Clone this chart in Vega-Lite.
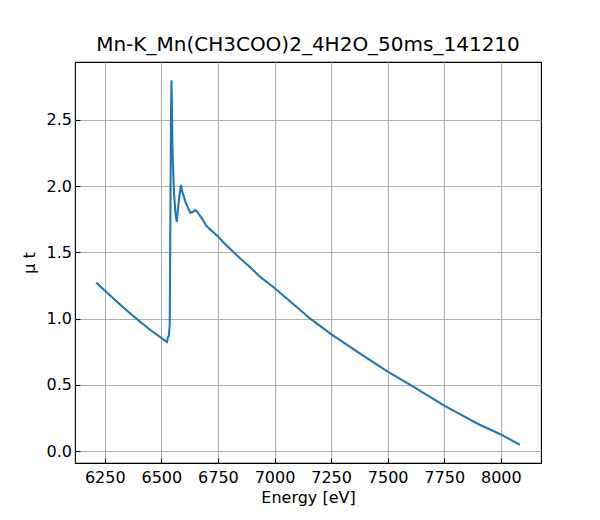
{
  "$schema": "https://vega.github.io/schema/vega-lite/v6.json",
  "autosize": {"type": "none"},
  "padding": {"left": 75, "top": 62, "right": 59, "bottom": 57},
  "width": 466,
  "height": 401,
  "title": {
    "text": "Mn-K_Mn(CH3COO)2_4H2O_50ms_141210",
    "font": "DejaVu Sans",
    "fontSize": 20,
    "fontWeight": "normal",
    "color": "black",
    "offset": 7
  },
  "config": {
    "view": {"stroke": "black", "strokeWidth": 1.1},
    "axis": {
      "labelFont": "DejaVu Sans",
      "labelFontSize": 16,
      "labelColor": "black",
      "titleFont": "DejaVu Sans",
      "titleFontSize": 16,
      "titleFontWeight": "normal",
      "titleColor": "black",
      "domain": false,
      "gridColor": "#b0b0b0",
      "gridWidth": 1.1,
      "tickColor": "black",
      "tickWidth": 1.1,
      "tickSize": -4.9
    }
  },
  "data": {
    "values": [
      {"energy": 6212, "mu": 1.272},
      {"energy": 6250, "mu": 1.212},
      {"energy": 6300, "mu": 1.134},
      {"energy": 6350, "mu": 1.058},
      {"energy": 6400, "mu": 0.985},
      {"energy": 6450, "mu": 0.916},
      {"energy": 6500, "mu": 0.855},
      {"energy": 6515, "mu": 0.835},
      {"energy": 6525, "mu": 0.825},
      {"energy": 6529, "mu": 0.86},
      {"energy": 6533, "mu": 0.87},
      {"energy": 6537, "mu": 0.95},
      {"energy": 6539, "mu": 1.5},
      {"energy": 6541, "mu": 2.1},
      {"energy": 6543, "mu": 2.6},
      {"energy": 6545, "mu": 2.8},
      {"energy": 6547, "mu": 2.55},
      {"energy": 6549, "mu": 2.3},
      {"energy": 6551, "mu": 2.17},
      {"energy": 6556, "mu": 1.95},
      {"energy": 6562, "mu": 1.8},
      {"energy": 6568, "mu": 1.73},
      {"energy": 6573, "mu": 1.82},
      {"energy": 6580, "mu": 1.93},
      {"energy": 6587, "mu": 2.01},
      {"energy": 6592, "mu": 1.96},
      {"energy": 6598, "mu": 1.93},
      {"energy": 6607, "mu": 1.88},
      {"energy": 6617, "mu": 1.84},
      {"energy": 6628, "mu": 1.8},
      {"energy": 6640, "mu": 1.805},
      {"energy": 6650, "mu": 1.82},
      {"energy": 6658, "mu": 1.81},
      {"energy": 6666, "mu": 1.79},
      {"energy": 6682, "mu": 1.75},
      {"energy": 6699, "mu": 1.7},
      {"energy": 6718, "mu": 1.67},
      {"energy": 6735, "mu": 1.645},
      {"energy": 6750, "mu": 1.62},
      {"energy": 6775, "mu": 1.575},
      {"energy": 6802, "mu": 1.53},
      {"energy": 6845, "mu": 1.46},
      {"energy": 6890, "mu": 1.392},
      {"energy": 6937, "mu": 1.315},
      {"energy": 6979, "mu": 1.26},
      {"energy": 7000, "mu": 1.232},
      {"energy": 7080, "mu": 1.115},
      {"energy": 7158, "mu": 1.0},
      {"energy": 7250, "mu": 0.883},
      {"energy": 7375, "mu": 0.74},
      {"energy": 7500, "mu": 0.6},
      {"energy": 7600, "mu": 0.5},
      {"energy": 7750, "mu": 0.343},
      {"energy": 7819, "mu": 0.279},
      {"energy": 7900, "mu": 0.205},
      {"energy": 8000, "mu": 0.126},
      {"energy": 8084, "mu": 0.048}
    ]
  },
  "mark": {"type": "line", "color": "#1f77b4", "strokeWidth": 2.08, "clip": true},
  "encoding": {
    "x": {
      "field": "energy",
      "type": "quantitative",
      "title": "Energy [eV]",
      "scale": {"domain": [6118.4, 8177.6], "nice": false, "zero": false},
      "axis": {
        "values": [6250, 6500, 6750, 7000, 7250, 7500, 7750, 8000],
        "format": "d",
        "labelPadding": 11,
        "titlePadding": 4
      }
    },
    "y": {
      "field": "mu",
      "type": "quantitative",
      "title": "μ t",
      "scale": {"domain": [-0.0896, 2.9376], "nice": false, "zero": false},
      "axis": {
        "values": [0, 0.5, 1, 1.5, 2, 2.5],
        "format": ".1f",
        "labelPadding": 8.5,
        "titlePadding": 8
      }
    }
  }
}
